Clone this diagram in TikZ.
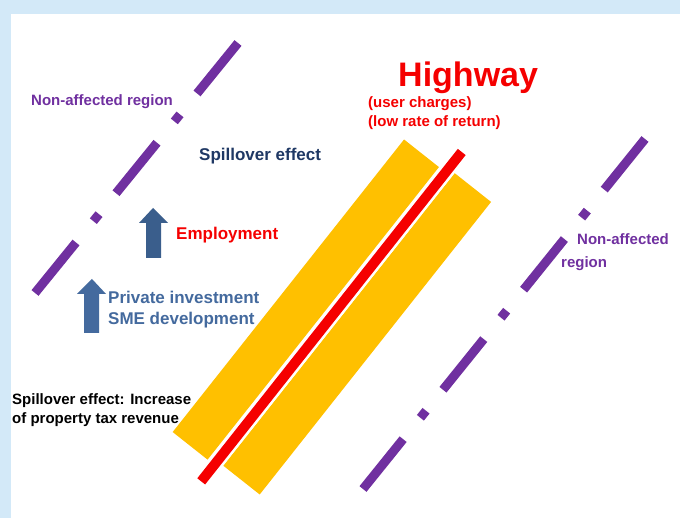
\documentclass[tikz,border=0pt]{standalone}
\usepackage{fontspec}
\setmainfont{Liberation Sans}
\definecolor{frame}{RGB}{211,233,248}
\definecolor{road}{RGB}{255,192,0}
\definecolor{lane}{RGB}{245,0,0}
\definecolor{region}{RGB}{112,48,160}
\definecolor{navy}{RGB}{31,56,100}
\definecolor{steel}{RGB}{58,94,140}
\definecolor{steellight}{RGB}{68,106,158}
\begin{document}
\begin{tikzpicture}[x=1pt,y=-1pt,
  lbl/.style={anchor=base west, inner sep=0pt, font=\bfseries\fontsize{15}{18}\selectfont},
  biglbl/.style={lbl, font=\bfseries\fontsize{17}{20}\selectfont},
  boundary/.style={region, line width=9pt, line cap=butt,
    dash pattern=on 65pt off 27pt on 9pt off 27.5pt},
  uparrow/.style={draw=none}
]
% canvas and light blue frame
\useasboundingbox (0,0) rectangle (680,518);
\fill[white] (0,0) rectangle (680,518);
\fill[frame] (0,0) rectangle (680,14);
\fill[frame] (0,0) rectangle (11,518);

% boundaries of the non-affected regions
\coordinate (lbTop) at (238,43);
\coordinate (lbBot) at (35,293);
\coordinate (rbTop) at (645,139);
\coordinate (rbBot) at (363,489);
\draw[boundary] (lbTop) -- (lbBot);
\draw[boundary] (rbTop) -- (rbBot);

% highway: two carriageways and the central red line
\begin{scope}[shift={(202,482)}, rotate=51.66]
  \fill[road] (21,-54) rectangle (394,-9.5);
  \fill[road] (26,6.5) rectangle (399,53);
  \coordinate (hwBot) at (0,-1);
  \coordinate (hwTop) at (420,-1);
  \draw[white, line width=15pt] (hwBot) -- (hwTop);
  \draw[lane, line width=10pt] (hwBot) -- (hwTop);
\end{scope}

% block arrows
\fill[steel] (153,208) -- (168,223) -- (161,223) -- (161,258)
  -- (146,258) -- (146,223) -- (139,223) -- cycle;
\fill[steellight] (92,279) -- (106,294) -- (99,294) -- (99,333)
  -- (84,333) -- (84,294) -- (77,294) -- cycle;

% labels
\node[lbl, text=region] (naLeft) at (31,106) {Non-affected region};
\node[biglbl, text=navy] (spill) at (199,161) {Spillover effect};
\node[biglbl, text=lane] (employ) at (176,240) {Employment};
\node[biglbl, text=steellight] (privInv) at (108,304) {Private investment};
\node[biglbl, text=steellight] (sme) at (108,325) {SME development};
\node[lbl, text=black] (taxA) at (12,405) {Spillover effect: Increase};
\node[lbl, text=black] (taxB) at (12,423) {of property tax revenue};
\node[anchor=base west, inner sep=0pt, text=lane,
  font=\bfseries\fontsize{34}{40}\selectfont] (hw) at (398,87) {Highway};
\node[lbl, text=lane] (charges) at (368,108) {(user charges)};
\node[lbl, text=lane] (rate) at (368,127) {(low rate of return)};
\node[lbl, text=region] (naRightA) at (577,245) {Non-affected};
\node[lbl, text=region] (naRightB) at (561,268) {region};
\end{tikzpicture}
\end{document}
